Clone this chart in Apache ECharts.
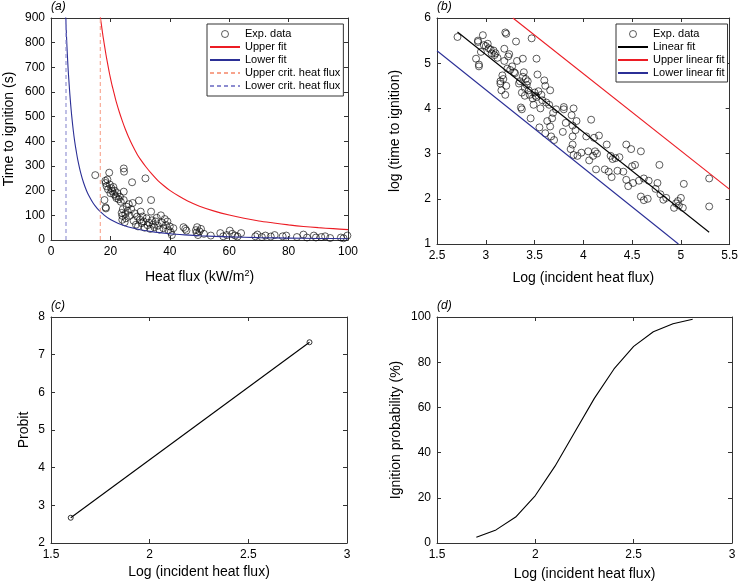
<!DOCTYPE html>
<html>
<head>
<meta charset="utf-8">
<script src="https://cdn.jsdelivr.net/npm/echarts@6/dist/echarts.min.js"></script>
<style>
  html, body { margin: 0; padding: 0; background: #fff; }
  #chart { width: 741px; height: 584px; }
</style>
</head>
<body>
<div id="chart"></div>
<script>
// (a) experimental data: heat flux (kW/m2) vs time to ignition (s)
var fluxA = [14.9, 18.0, 18.3, 18.4, 18.4, 18.5, 18.7, 19.0, 19.2, 19.6, 19.8, 20.0, 20.3, 20.6, 21.0, 21.2, 21.5, 21.8, 22.0, 22.4,
  22.8, 23.2, 23.5, 23.8, 24.0, 24.0, 24.2, 24.5, 24.6, 24.5, 24.5, 24.8, 25.0, 25.2, 25.5, 25.8, 26.2, 26.5, 27.0, 27.3,
  27.5, 27.8, 28.2, 28.6, 29.0, 29.3, 29.6, 30.0, 30.2, 30.5, 30.8, 31.2, 31.5, 31.8, 32.2, 32.5, 33.0, 33.4, 33.7, 33.7,
  34.0, 34.3, 34.8, 35.2, 35.6, 36.0, 36.5, 37.0, 37.4, 37.8, 38.3, 38.7, 39.2, 39.5, 40.0, 40.3, 40.7, 41.2, 44.6, 45.2,
  45.6, 48.8, 49.0, 49.2, 49.5, 50.0, 50.5, 51.5, 53.8, 57.0, 58.0, 59.2, 60.2, 61.0, 62.0, 62.8, 64.0, 68.8, 69.5, 71.0,
  72.2, 74.0, 75.3, 78.0, 79.2, 82.8, 85.0, 86.2, 88.5, 89.2, 91.0, 92.3, 94.0, 97.6, 98.5, 99.8];
var timeA = [263, 162, 240, 231, 132, 128, 218, 245, 205, 273, 225, 190, 210, 198, 215, 185, 200, 178, 170, 190,
  165, 175, 155, 110, 98, 82, 125, 290, 277, 196, 162, 72, 105, 88, 135, 118, 145, 98, 125, 234,
  150, 78, 108, 62, 95, 55, 160, 82, 115, 68, 95, 75, 50, 250, 88, 60, 70, 45, 162, 115,
  80, 62, 52, 75, 90, 58, 42, 100, 70, 48, 85, 60, 75, 40, 55, 32, 20, 48, 52, 45,
  38, 40, 30, 52, 20, 35, 45, 25, 18, 28, 15, 20, 38, 25, 18, 14, 28, 15, 22, 12,
  18, 14, 20, 15, 18, 12, 22, 10, 18, 10, 12, 15, 8, 10, 7, 18];

// (a) fitted curves
var upperFitQ = [16.6, 16.8, 17, 17.25, 17.5, 17.75, 18, 18.5, 19, 19.5, 20, 20.5, 21, 21.5, 22, 23, 24, 25, 26, 27.5, 29, 30, 32, 34, 36, 38, 40, 43, 46, 50, 55, 60, 65, 70, 75, 80, 85, 90, 95, 100];
var upperFitT = [905, 887, 870, 848, 827, 808, 789, 752, 719, 687, 657, 630, 606, 582, 559, 519, 483, 450, 421, 382, 348, 329, 296, 267, 241, 220, 201, 178, 158, 137, 117, 101, 88, 77, 69, 61.5, 55, 50, 46, 42];
var lowerFitQ = [4.95, 5.1, 5.25, 5.4, 5.6, 5.8, 6, 6.25, 6.5, 6.75, 7, 7.5, 8, 8.5, 9, 10, 11, 12, 13, 14, 15, 16, 18, 20, 22.5, 25, 27.5, 30, 35, 40, 45, 50, 60, 70, 80, 90, 100];
var lowerFitT = [905, 860, 818, 778, 730, 686, 651, 607, 568, 532, 500, 444, 398, 360, 326, 272, 231, 199, 174, 153, 136, 122, 100, 83, 68, 57, 48.5, 41.5, 32, 25.4, 20.9, 17.3, 12.7, 9.7, 7.8, 6.3, 5.3];
var upperCrit = 16.6;
var lowerCrit = 5.05;

// (b) log of heat flux vs log of time to ignition
var logQB = [2.71, 2.90, 2.92, 2.92, 2.93, 2.93, 2.95, 2.97, 2.98, 3.00, 3.02, 3.03, 3.05, 3.06, 3.08, 3.09, 3.10, 3.12, 3.15, 3.15,
  3.16, 3.17, 3.18, 3.19, 3.19, 3.20, 3.20, 3.21, 3.21, 3.22, 3.23, 3.24, 3.25, 3.27, 3.29, 3.30, 3.31, 3.32, 3.34, 3.35,
  3.36, 3.37, 3.37, 3.38, 3.38, 3.39, 3.40, 3.40, 3.41, 3.42, 3.43, 3.44, 3.45, 3.46, 3.47, 3.48, 3.49, 3.50, 3.51, 3.52,
  3.52, 3.53, 3.54, 3.55, 3.56, 3.57, 3.58, 3.60, 3.61, 3.61, 3.62, 3.63, 3.65, 3.66, 3.66, 3.67, 3.68, 3.69, 3.70, 3.72,
  3.79, 3.80, 3.80, 3.82, 3.87, 3.88, 3.89, 3.89, 3.89, 3.90, 3.90, 3.92, 3.93, 3.94, 3.98, 4.03, 4.05, 4.06, 4.08, 4.10,
  4.11, 4.12, 4.13, 4.14, 4.16, 4.22, 4.24, 4.26, 4.28, 4.29, 4.30, 4.33, 4.35, 4.37, 4.41, 4.44, 4.44, 4.46, 4.49, 4.50,
  4.51, 4.53, 4.57, 4.59, 4.59, 4.62, 4.62, 4.66, 4.67, 4.74, 4.76, 4.78, 4.79, 4.82, 4.85, 4.93, 4.95, 4.97, 4.98, 5.00,
  5.02, 5.03, 5.29, 5.29];
var logTB = [5.58, 5.10, 5.50, 5.47, 4.93, 4.97, 5.25, 5.62, 5.40, 5.38, 5.43, 5.33, 5.30, 5.22, 5.28, 5.18, 5.22, 5.12, 4.60, 4.55,
  4.40, 4.73, 4.65, 5.32, 5.05, 5.68, 4.30, 4.50, 5.65, 4.88, 5.15, 5.20, 4.85, 4.93, 4.80, 4.78, 5.48, 5.05, 4.55, 4.60,
  4.02, 3.98, 4.35, 4.70, 5.10, 4.80, 4.45, 4.28, 4.65, 4.52, 4.60, 4.40, 4.30, 3.78, 5.55, 4.22, 4.08, 4.35, 4.28, 4.25,
  5.10, 4.75, 4.38, 3.58, 4.00, 4.30, 4.18, 4.62, 3.45, 4.50, 4.13, 3.72, 4.08, 4.40, 3.60, 3.38, 3.78, 3.90, 3.30, 3.98,
  3.48, 3.98, 4.03, 3.68, 3.10, 3.85, 3.62, 3.38, 3.20, 4.00, 2.97, 3.52, 3.72, 2.95, 3.02, 3.38, 3.05, 2.85, 3.75, 2.95,
  3.35, 3.05, 2.65, 3.00, 3.40, 2.65, 3.20, 2.60, 2.95, 2.48, 2.88, 2.90, 2.62, 2.92, 2.60, 3.20, 2.42, 2.28, 3.10, 2.72,
  2.35, 2.75, 2.40, 3.05, 2.05, 1.97, 2.45, 2.00, 2.40, 2.22, 2.35, 2.75, 2.10, 1.98, 2.02, 1.80, 1.90, 1.95, 1.85, 2.02,
  1.80, 2.33, 2.45, 1.83];

// (b) fit lines, end points
var linFitX = [2.71, 5.29];
var linFitY = [5.69, 1.26];
var upLinX = [3.278, 5.5];
var upLinY = [6.0, 2.21];
var lowLinX = [2.5, 4.975];
var lowLinY = [5.276, 1.0];

// (c) probit
var probitX = [1.6, 2.81];
var probitY = [2.67, 7.33];

// (d) ignition probability
var probX = [1.7, 1.8, 1.9, 2.0, 2.1, 2.2, 2.3, 2.4, 2.5, 2.6, 2.7, 2.8];
var probY = [2.5, 5.8, 11.5, 21, 34, 49, 64, 77, 87, 93.5, 97, 99];

var FONT = '"Liberation Sans", Arial, Helvetica, sans-serif';
var AXIS_COLOR = '#333';
var RED = '#ec1c24';
var BLUE = '#2b2f96';

function pairs(xs, ys) {
  return xs.map(function (x, i) { return [x, ys[i]]; });
}

var grids = [
  { left: 51, top: 18, width: 297, height: 222 },
  { left: 437, top: 18, width: 295, height: 226 },
  { left: 51, top: 317, width: 296, height: 226 },
  { left: 437, top: 317, width: 295, height: 226 }
];

// main axis with labels + mirrored axis (box with inward ticks)
function makeAxis(grid, pos, min, max, interval, name, nameGap, mirror) {
  var ax = {
    type: 'value',
    gridIndex: grid,
    position: pos,
    min: min,
    max: max,
    interval: interval,
    splitLine: { show: false },
    axisLine: { show: true, onZero: false, lineStyle: { color: AXIS_COLOR, width: 1 } },
    axisTick: { show: true, inside: true, length: 4, lineStyle: { color: AXIS_COLOR } },
    axisLabel: { show: !mirror, color: '#000', fontSize: 12, fontFamily: FONT, margin: 6 },
    silent: true
  };
  if (!mirror && name) {
    ax.name = name;
    ax.nameLocation = 'middle';
    ax.nameGap = nameGap;
    ax.nameTextStyle = {
      color: '#000', fontSize: 14, fontFamily: FONT,
      rich: { sup: { fontSize: 9, fontFamily: FONT, color: '#000', padding: [0, 0, 8, 0] } }
    };
  }
  return ax;
}

var xAxes = [
  makeAxis(0, 'bottom', 0, 100, 20, 'Heat flux (kW/m{sup|2})', 29),
  makeAxis(1, 'bottom', 2.5, 5.5, 0.5, 'Log (incident heat flux)', 27),
  makeAxis(2, 'bottom', 1.5, 3, 0.5, 'Log (incident heat flux)', 22),
  makeAxis(3, 'bottom', 1.5, 3, 0.5, 'Log (incident heat flux)', 24),
  makeAxis(0, 'top', 0, 100, 20, null, 0, true),
  makeAxis(1, 'top', 2.5, 5.5, 0.5, null, 0, true),
  makeAxis(2, 'top', 1.5, 3, 0.5, null, 0, true),
  makeAxis(3, 'top', 1.5, 3, 0.5, null, 0, true)
];
var yAxes = [
  makeAxis(0, 'left', 0, 900, 100, 'Time to ignition (s)', 35),
  makeAxis(1, 'left', 1, 6, 1, 'log (time to ignition)', 35),
  makeAxis(2, 'left', 2, 8, 1, 'Probit', 20),
  makeAxis(3, 'left', 0, 100, 20, 'Ignition probability (%)', 34),
  makeAxis(0, 'right', 0, 900, 100, null, 0, true),
  makeAxis(1, 'right', 1, 6, 1, null, 0, true),
  makeAxis(2, 'right', 2, 8, 1, null, 0, true),
  makeAxis(3, 'right', 0, 100, 20, null, 0, true)
];

var openCircle = { color: 'transparent', borderColor: '#000', borderWidth: 0.8 };

function lineSeries(name, idx, data, color, extra) {
  var s = {
    name: name,
    type: 'line',
    xAxisIndex: idx,
    yAxisIndex: idx,
    data: data,
    symbol: 'none',
    lineStyle: { color: color, width: 1.1 },
    itemStyle: { color: color },
    emphasis: { disabled: true },
    clip: true
  };
  for (var k in extra) s[k] = extra[k];
  return s;
}

var series = [
  {
    name: 'Exp. data', type: 'scatter', xAxisIndex: 0, yAxisIndex: 0,
    data: pairs(fluxA, timeA), symbol: 'circle', symbolSize: 7, itemStyle: openCircle,
    emphasis: { disabled: true }
  },
  lineSeries('Upper fit', 0, pairs(upperFitQ, upperFitT), RED, { smooth: 0.3 }),
  lineSeries('Lower fit', 0, pairs(lowerFitQ, lowerFitT), BLUE, { smooth: 0.3 }),
  lineSeries('Upper crit. heat flux', 0, [[upperCrit, 0], [upperCrit, 900]], '#f7a38c', {}),
  lineSeries('Lower crit. heat flux', 0, [[lowerCrit, 0], [lowerCrit, 900]], '#8c8cd0', {}),

  {
    name: 'Exp. data', type: 'scatter', xAxisIndex: 1, yAxisIndex: 1,
    data: pairs(logQB, logTB), symbol: 'circle', symbolSize: 7, itemStyle: openCircle,
    emphasis: { disabled: true }
  },
  lineSeries('Linear fit', 1, pairs(linFitX, linFitY), '#000', {}),
  lineSeries('Upper linear fit', 1, pairs(upLinX, upLinY), RED, {}),
  lineSeries('Lower linear fit', 1, pairs(lowLinX, lowLinY), BLUE, {}),

  {
    name: 'probit', type: 'line', xAxisIndex: 2, yAxisIndex: 2,
    data: pairs(probitX, probitY), symbol: 'circle', symbolSize: 5, showSymbol: true,
    itemStyle: openCircle, lineStyle: { color: '#000', width: 1.1 }, emphasis: { disabled: true }
  },
  lineSeries('probability', 3, pairs(probX, probY), '#000', {})
];
// dashed critical lines
series[3].lineStyle.type = [4, 3];
series[4].lineStyle.type = [4, 3];

// legend entries: circle for the data, plain line (no dot) for fits
function legendItems(names) {
  return names.map(function (n) {
    if (n === 'Exp. data') {
      return { name: n, itemStyle: { color: 'transparent', borderColor: '#000', borderWidth: 0.8 } };
    }
    return { name: n, itemStyle: { opacity: 0 } };
  });
}

function legendBox(left, top, names, pad) {
  return {
    show: true,
    orient: 'vertical',
    left: left,
    top: top,
    padding: pad,
    itemGap: 1,
    itemWidth: 30,
    itemHeight: 7,
    itemTextGap: 3,
    backgroundColor: '#fff',
    borderColor: '#333',
    borderWidth: 1,
    borderRadius: 0,
    selectedMode: false,
    textStyle: { color: '#000', fontSize: 11, fontFamily: FONT, lineHeight: 12 },
    data: legendItems(names)
  };
}

var labels = ['(a)', '(b)', '(c)', '(d)'];
var labelPos = [[51, 1], [437, 1], [51, 300], [437, 300]];

var option = {
  animation: false,
  backgroundColor: '#fff',
  grid: grids,
  xAxis: xAxes,
  yAxis: yAxes,
  legend: [
    legendBox(207, 24, ['Exp. data', 'Upper fit', 'Lower fit', 'Upper crit. heat flux', 'Lower crit. heat flux'], [4, 3, 4, 2]),
    legendBox(616, 24, ['Exp. data', 'Linear fit', 'Upper linear fit', 'Lower linear fit'], [4, 3, 3, 1])
  ],
  graphic: labels.map(function (t, i) {
    return {
      type: 'text', left: labelPos[i][0], top: labelPos[i][1],
      style: { text: t, font: 'italic 12px ' + FONT, fill: '#000' }
    };
  }),
  series: series
};

var chart = echarts.init(document.getElementById('chart'));
chart.setOption(option);
</script>
</body>
</html>
